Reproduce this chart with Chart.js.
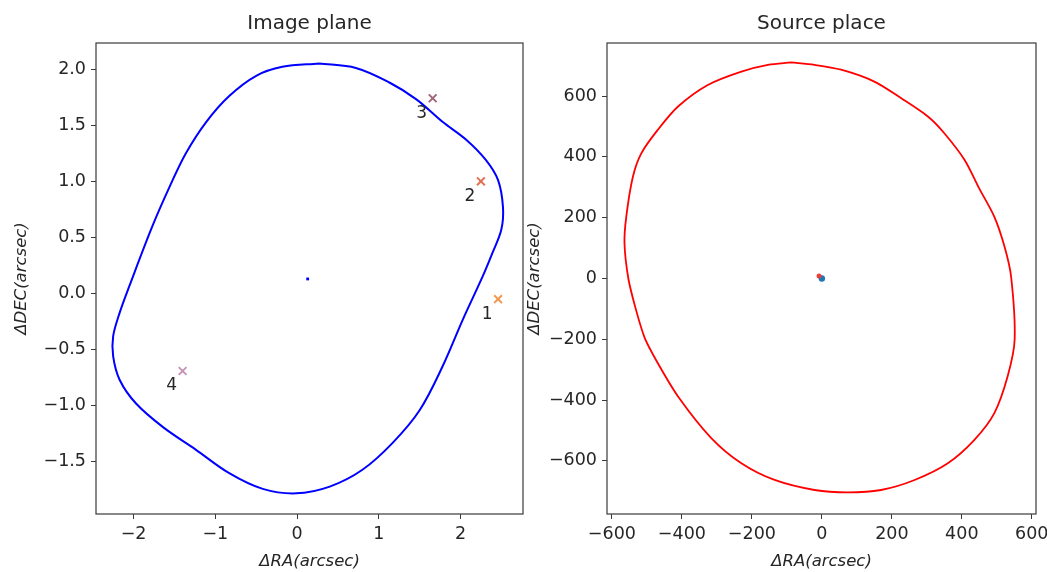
<!DOCTYPE html>
<html>
<head>
<meta charset="utf-8">
<script src="https://cdn.jsdelivr.net/npm/chart.js@4.4.1/dist/chart.umd.min.js"></script>
<style>
  html, body { margin: 0; padding: 0; background: #fff; }
  #wrap { position: relative; width: 1047px; height: 572px; }
  .panel { position: absolute; top: 0; height: 572px; }
  #imagePanel { left: 0; width: 525px; }
  #sourcePanel { left: 525px; width: 522px; }
</style>
</head>
<body>
<div id="wrap">
  <div class="panel" id="imagePanel"><canvas id="imageChart"></canvas></div>
  <div class="panel" id="sourcePanel"><canvas id="sourceChart"></canvas></div>
</div>
<script>
// Critical curve in the image plane (arcsec)
const critX = [0.27, 0.72, 1.13, 1.46, 1.78, 2.07, 2.31, 2.46, 2.52, 2.50, 2.39, 2.27, 2.03, 1.78, 1.50, 1.17,
  0.80, 0.40, -0.01, -0.42, -0.83, -1.24, -1.64, -1.97, -2.17, -2.25, -2.25, -2.17, -2.05, -1.77, -1.56, -1.36,
  -1.11, -0.83, -0.50, -0.18, 0.27];
const critY = [2.05, 2.01, 1.88, 1.73, 1.53, 1.37, 1.19, 1.01, 0.77, 0.57, 0.36, 0.15, -0.23, -0.65, -1.04, -1.33,
  -1.57, -1.72, -1.78, -1.74, -1.60, -1.39, -1.19, -0.98, -0.77, -0.56, -0.38, -0.17, 0.07, 0.60, 0.95, 1.25,
  1.53, 1.76, 1.94, 2.02, 2.05];

// Lensed images
const imgNames = ['1', '2', '3', '4'];
const imgX = [2.46, 2.25, 1.66, -1.40];
const imgY = [-0.05, 1.00, 1.74, -0.69];
const imgColors = ['#f29a55', '#e2704f', '#a0687a', '#c796b6'];
const imgCores = ['#c7773a', '#a8401f', '#6e4a62', '#9e6e92'];

// Lens centre
const lensX = [0.13];
const lensY = [0.13];

// Caustic in the source plane
const causX = [-88, -21, 55, 150, 227, 303, 350, 408, 448, 493, 522, 541, 551, 531, 493, 436, 360, 265, 169, 74,
  -21, -135, -230, -316, -411, -469, -506, -533, -553, -564, -559, -540, -516, -469, -411, -326, -230, -154, -88];
const causY = [711, 703, 687, 648, 593, 533, 478, 390, 300, 203, 105, 5, -201, -322, -443, -531, -608, -663, -696, -704,
  -696, -663, -608, -525, -388, -278, -196, -95, 0, 115, 203, 335, 412, 489, 566, 637, 681, 703, 711];

// Source position
const srcX = [0];
const srcY = [0];
const srcGuessX = [-8];
const srcGuessY = [8];

// Tick values
const imgTicksX = [-2, -1, 0, 1, 2];
const imgTicksY = [-1.5, -1.0, -0.5, 0.0, 0.5, 1.0, 1.5, 2.0];
const srcTicksX = [-600, -400, -200, 0, 200, 400, 600];
const srcTicksY = [-600, -400, -200, 0, 200, 400, 600];

const FONT = '"DejaVu Sans", sans-serif';
const INK = '#262626';

const toPoints = (xs, ys) => xs.map((x, i) => ({ x: x, y: ys[i] }));
const minus = s => s.replace('-', '\u2212');

// box around the plot area, like matplotlib spines
const frame = {
  id: 'frame',
  afterDraw(chart) {
    const { ctx, chartArea: a } = chart;
    ctx.save();
    ctx.strokeStyle = '#3a3a3a';
    ctx.lineWidth = 1.2;
    ctx.strokeRect(a.left, a.top, a.right - a.left, a.bottom - a.top);
    ctx.restore();
  }
};

// numbers next to the image markers
const markerLabels = {
  id: 'markerLabels',
  afterDatasetsDraw(chart) {
    if (chart.canvas.id !== 'imageChart') return;
    const { ctx, scales: { x, y } } = chart;
    ctx.save();
    ctx.font = '17px ' + FONT;
    ctx.fillStyle = INK;
    ctx.textAlign = 'center';
    ctx.textBaseline = 'middle';
    imgNames.forEach((name, i) => {
      ctx.fillText(name, x.getPixelForValue(imgX[i]) - 11, y.getPixelForValue(imgY[i]) + 15);
    });
    ctx.restore();
  }
};

function axis(min, max, ticks, fmt, title, size, titlePad) {
  return {
    type: 'linear',
    min: min,
    max: max,
    afterBuildTicks: s => { s.ticks = ticks.map(v => ({ value: v })); },
    afterFit: s => {
      if (s.isHorizontal()) s.height = size; else s.width = size;
      s.paddingLeft = 0; s.paddingRight = 0; s.paddingTop = 0; s.paddingBottom = 0;
    },
    border: { display: false },
    grid: { drawOnChartArea: false, drawTicks: true, tickLength: 5, color: '#3a3a3a', lineWidth: 1 },
    ticks: {
      padding: 5,
      color: INK,
      font: { family: FONT, size: 17.5 },
      maxRotation: 0,
      autoSkip: false,
      callback: v => minus(fmt(v))
    },
    title: {
      display: true,
      text: title,
      color: INK,
      font: { family: FONT, size: 16.5, style: 'italic' },
      padding: titlePad
    }
  };
}

function baseOptions(titleText, scales, padRight) {
  return {
    responsive: true,
    maintainAspectRatio: false,
    animation: false,
    layout: { autoPadding: false, padding: { left: 0, right: padRight, top: 0, bottom: 0 } },
    plugins: {
      legend: { display: false },
      tooltip: { enabled: false },
      title: {
        display: true,
        fullSize: false,
        text: titleText,
        color: INK,
        font: { family: FONT, size: 20, weight: 'normal' },
        padding: { top: 12, bottom: 7 }
      }
    },
    scales: scales
  };
}

new Chart(document.getElementById('imageChart'), {
  type: 'scatter',
  data: {
    datasets: [
      {
        data: toPoints(critX, critY),
        showLine: true,
        tension: 0.35,
        borderColor: '#0000ff',
        borderWidth: 2,
        pointRadius: 0
      },
      {
        data: toPoints(lensX, lensY),
        pointStyle: 'rect',
        pointRadius: 2,
        backgroundColor: '#0000ff',
        borderWidth: 0
      },
      {
        data: toPoints(imgX, imgY),
        pointStyle: 'crossRot',
        pointRadius: 5.5,
        borderWidth: 2,
        pointBorderColor: imgColors
      },
      {
        data: toPoints(imgX, imgY),
        pointStyle: 'rect',
        pointRadius: 1.8,
        borderWidth: 0,
        pointBackgroundColor: imgCores
      }
    ]
  },
  options: baseOptions('Image plane', {
    x: axis(-2.46, 2.765, imgTicksX, v => String(v), '\u0394RA(arcsec)', 58, { top: 0, bottom: 0 }),
    y: axis(-1.964, 2.232, imgTicksY, v => v.toFixed(1), '\u0394DEC(arcsec)', 96, { top: 12, bottom: 0 })
  }, 2),
  plugins: [frame, markerLabels]
});

new Chart(document.getElementById('sourceChart'), {
  type: 'scatter',
  data: {
    datasets: [
      {
        data: toPoints(causX, causY),
        showLine: true,
        tension: 0.3,
        borderColor: '#ff0000',
        borderWidth: 1.8,
        pointRadius: 0
      },
      {
        data: toPoints(srcGuessX, srcGuessY),
        pointRadius: 2.5,
        backgroundColor: '#e8403a',
        borderWidth: 0
      },
      {
        data: toPoints(srcX, srcY),
        pointRadius: 3.2,
        backgroundColor: '#1f77b4',
        borderWidth: 0
      }
    ]
  },
  options: baseOptions('Source place', {
    x: axis(-614, 612, srcTicksX, v => String(v), '\u0394RA(arcsec)', 58, { top: 0, bottom: 0 }),
    y: axis(-775, 775, srcTicksY, v => String(v), '\u0394DEC(arcsec)', 82, { top: 0, bottom: 0 })
  }, 11),
  plugins: [frame]
});
</script>
</body>
</html>
